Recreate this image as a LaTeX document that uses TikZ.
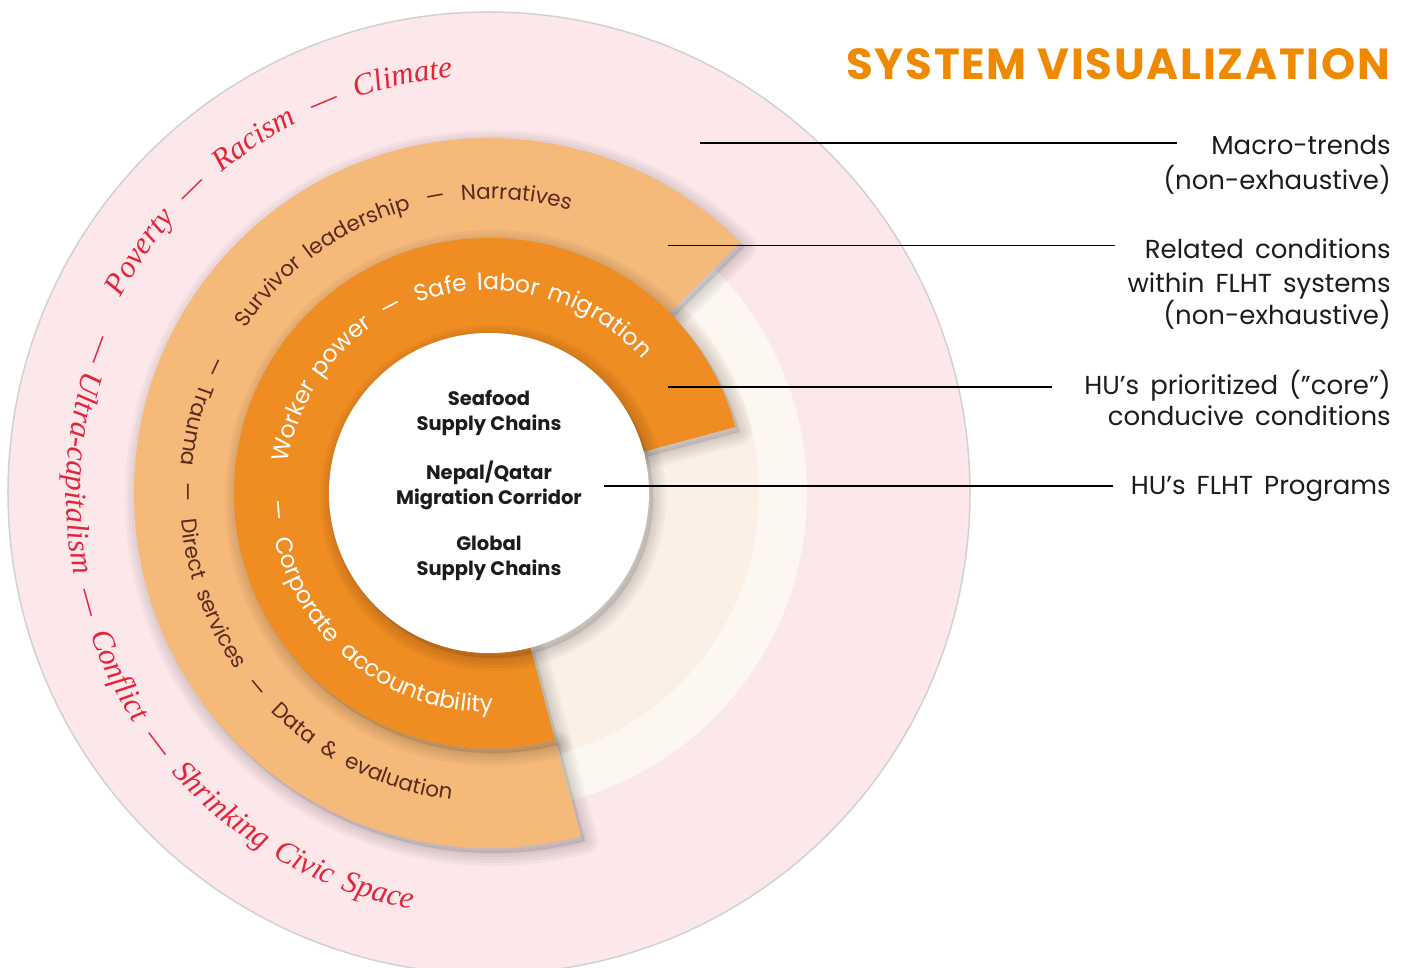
\documentclass[tikz,border=0pt]{standalone}
\usepackage{fontspec}
\setmainfont{Poppins}
\newfontfamily\trendserif{Liberation Serif}
\newfontfamily\legendfont{Poppins}[WordSpace=1.6]
\newfontfamily\titlefont{Poppins}[LetterSpace=4]
\usetikzlibrary{decorations.text}

\definecolor{pinkbg}{HTML}{FCE8EA}
\definecolor{creamA}{HTML}{FDF7F1}
\definecolor{creamB}{HTML}{FAF0E6}
\definecolor{bandlight}{HTML}{F5B97A}
\definecolor{banddark}{HTML}{EF8C22}
\definecolor{trendred}{HTML}{E3253A}
\definecolor{condbrown}{HTML}{5B2A1E}
\definecolor{titleorange}{HTML}{EF8A00}
\definecolor{inktext}{HTML}{1C1C1C}

\newcommand{\trendtxt}{\trendserif\itshape\fontsize{31}{31}\selectfont\color{trendred}}
\newcommand{\condtxt}{\fontsize{21.5}{21.5}\selectfont\color{condbrown}}
\newcommand{\coretxt}{\fontsize{23.5}{23.5}\selectfont\color{white}}
\newcommand{\dashgap}{\hspace{6pt}}

% ring sectors
\newcommand{\condband}{(45:355) arc[start angle=45,end angle=285,radius=355]
  -- (285:255) arc[start angle=285,end angle=45,radius=255] -- cycle}
\newcommand{\coreband}{(15:255) arc[start angle=15,end angle=285,radius=255]
  -- (285:160) arc[start angle=285,end angle=15,radius=160] -- cycle}
\newcommand{\progdisc}{(0,0) circle[radius=160]}

% soft shadow under a path
\newcommand{\softshadow}[1]{%
  \foreach \w in {26,20,14,8,3}{\draw[black,opacity=0.03,line width=\w pt,line join=round,xshift=4pt,yshift=-5pt] #1;}
  \fill[black,opacity=0.10,xshift=4pt,yshift=-5pt] #1;}

\begin{document}
\begin{tikzpicture}[x=1pt,y=1pt,
  curved/.style={decorate,decoration={text along path,text align={fit to path stretching spaces},text={#1}}},
  hub/.style={align=center,font=\bfseries\fontsize{19.5}{25}\selectfont,text=inktext},
  legend/.style={anchor=base east,inner sep=0pt,font=\legendfont\fontsize{26}{26}\selectfont,text=inktext},
  leader/.style={draw=black,line width=1.8pt}]
\useasboundingbox (-489,-475) rectangle (923,493);

% rings
\fill[pinkbg,draw=black!18,line width=1.5pt] (0,0) circle[radius=481];
\fill[creamA] (0,0) circle[radius=318];
\fill[creamB] (0,0) circle[radius=270];

\softshadow{\condband}
\fill[bandlight] \condband;
\softshadow{\coreband}
\fill[banddark] \coreband;
\softshadow{\progdisc}
\fill[white] \progdisc;

% text round the rings
\path[curved={|\trendtxt|Poverty {\dashgap—\dashgap} Racism {\dashgap—\dashgap} Climate}]
  (152:417) arc[start angle=152,end angle=95,radius=417];
\path[curved={|\trendtxt|— Ultra-capitalism {\dashgap—\dashgap} Conflict {\dashgap—\dashgap} Shrinking Civic Space}]
  (158:423) arc[start angle=158,end angle=259.5,radius=423];

\path[curved={|\condtxt|Survivor leadership {\dashgap—\dashgap} Narratives}]
  (146:294) arc[start angle=146,end angle=74,radius=294];
\path[curved={|\condtxt|— Trauma {\dashgap—\dashgap} Direct services {\dashgap—\dashgap} Data {\&} evaluation}]
  (153.5:309) arc[start angle=153.5,end angle=263,radius=309];

\path[curved={|\coretxt|Worker power {\dashgap—\dashgap} Safe labor migration}]
  (171.5:203) arc[start angle=171.5,end angle=41,radius=203];
\path[curved={|\coretxt|— {\dashgap}Corporate accountability}]
  (182:219) arc[start angle=182,end angle=271,radius=219];

% programs
\node[hub] (seafood) at (0,80.5) {Seafood\\Supply Chains};
\node[hub] (corridor) at (0,7.5) {Nepal/Qatar\\Migration Corridor};
\node[hub] (globalsc) at (0,-65.5) {Global\\Supply Chains};

\node[anchor=base east,inner sep=0pt,font=\titlefont\bfseries\fontsize{43.5}{43.5}\selectfont,text=titleorange] (title) at (901,413) {SYSTEM VISUALIZATION};

% legend
\node[legend] (trends) at (902,338) {Macro-trends};
\node[legend] (trendsb) at (902,303) {(non-exhaustive)};
\node[legend] (related) at (902,234) {Related conditions};
\node[legend] (relatedb) at (902,200) {within FLHT systems};
\node[legend] (relatedc) at (902,168) {(non-exhaustive)};
\node[legend] (core) at (902,98) {HU’s prioritized (”core”)};
\node[legend] (coreb) at (902,67) {conducive conditions};
\node[legend] (progs) at (902,-2) {HU’s FLHT Programs};

\coordinate (ltrends) at (211,350);
\coordinate (lrelated) at (179,247.5);
\coordinate (lcore) at (179,106);
\coordinate (lprogs) at (115,7);
\draw[leader] (ltrends) -- ([xshift=-34pt]trends.west |- ltrends);
\draw[leader] (lrelated) -- ([xshift=-30pt]related.west |- lrelated);
\draw[leader] (lcore) -- ([xshift=-32pt]core.west |- lcore);
\draw[leader] (lprogs) -- ([xshift=-18pt]progs.west |- lprogs);
\end{tikzpicture}
\end{document}
